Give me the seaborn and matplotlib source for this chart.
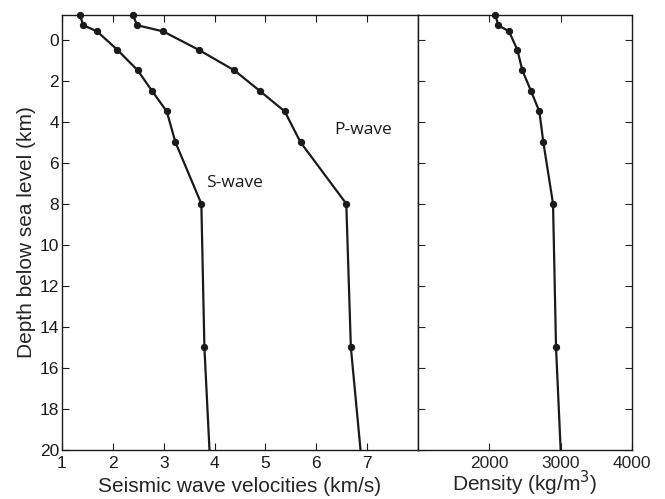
import numpy as np
import pandas as pd
import matplotlib
matplotlib.use("Agg")
import matplotlib.pyplot as plt
import seaborn as sns

depth = [-1.2, -0.7, -0.4, 0.5, 1.5, 2.5, 3.5, 5.0, 8.0, 15.0, 20.0]
vs = [1.35, 1.42, 1.69, 2.09, 2.49, 2.77, 3.06, 3.23, 3.74, 3.80, 3.90]
vp = [2.39, 2.48, 2.99, 3.69, 4.39, 4.89, 5.38, 5.69, 6.59, 6.68, 6.87]
rho = [2084, 2126, 2276, 2393, 2463, 2584, 2701, 2757, 2893, 2935, 3000]

vel_ticks = [1, 2, 3, 4, 5, 6, 7]
rho_ticks = [2000, 3000, 4000]
depth_ticks = list(range(0, 21, 2))

sns.set_theme(style="ticks")
plt.rcParams['font.family'] = ['Liberation Sans', 'DejaVu Sans']
plt.rcParams['xtick.direction'] = 'in'
plt.rcParams['ytick.direction'] = 'in'

df_s = pd.DataFrame({"depth": depth, "v": vs})
df_p = pd.DataFrame({"depth": depth, "v": vp})
df_r = pd.DataFrame({"depth": depth, "rho": rho})

fig = plt.figure(figsize=(6.65, 4.99), dpi=100)
ax1 = fig.add_axes([62/665, 1-450/499, 356/665, 435/499])
ax2 = fig.add_axes([418/665, 1-450/499, 214/665, 435/499], sharey=ax1)

# the last sample (bottom of the axis) is drawn without a marker
marked = list(range(len(depth) - 1))
kw = dict(color="#1a1a1a", marker="o", markersize=4.5, linewidth=1.6,
          markeredgecolor="#1a1a1a", orient="y", legend=False, clip_on=False,
          markevery=marked)
sns.lineplot(data=df_s, x="v", y="depth", ax=ax1, **kw)
sns.lineplot(data=df_p, x="v", y="depth", ax=ax1, **kw)
sns.lineplot(data=df_r, x="rho", y="depth", ax=ax2, **kw)

ax1.set_xlim(1, 8)
ax1.set_ylim(20, -1.2)
ax1.set_xticks(vel_ticks)
ax1.set_yticks(depth_ticks)
ax1.tick_params(axis='both', labelsize=12.5, length=5, width=0.8,
                top=True, right=False, colors='#1a1a1a')
ax1.tick_params(axis='x', pad=4)
ax1.tick_params(axis='y', pad=2)
ax1.set_xlabel("Seismic wave velocities (km/s)", fontsize=15, labelpad=5)
ax1.set_ylabel("Depth below sea level (km)", fontsize=15, labelpad=3)

ax2.set_xlim(1000, 4000)
ax2.set_xticks(rho_ticks)
ax2.tick_params(axis='both', labelsize=12.5, length=5, width=0.8,
                top=True, right=True, left=True, labelleft=False)
ax2.tick_params(axis='x', pad=4)
ax2.set_xlabel("Density (kg/m$^3$)", fontsize=15, labelpad=-1)
ax2.set_ylabel("")

for ax in (ax1, ax2):
    for s in ax.spines.values():
        s.set_visible(True)
        s.set_linewidth(1.0)
        s.set_color('#1a1a1a')

ax1.text(3.84, 7.0, "S-wave", fontsize=12.5, family="Open Sans", color="#1a1a1a",
         ha="left", va="center")
ax1.text(6.35, 4.4, "P-wave", fontsize=12.5, family="Open Sans", color="#1a1a1a",
         ha="left", va="center")

fig.savefig("out.png", dpi=100)
